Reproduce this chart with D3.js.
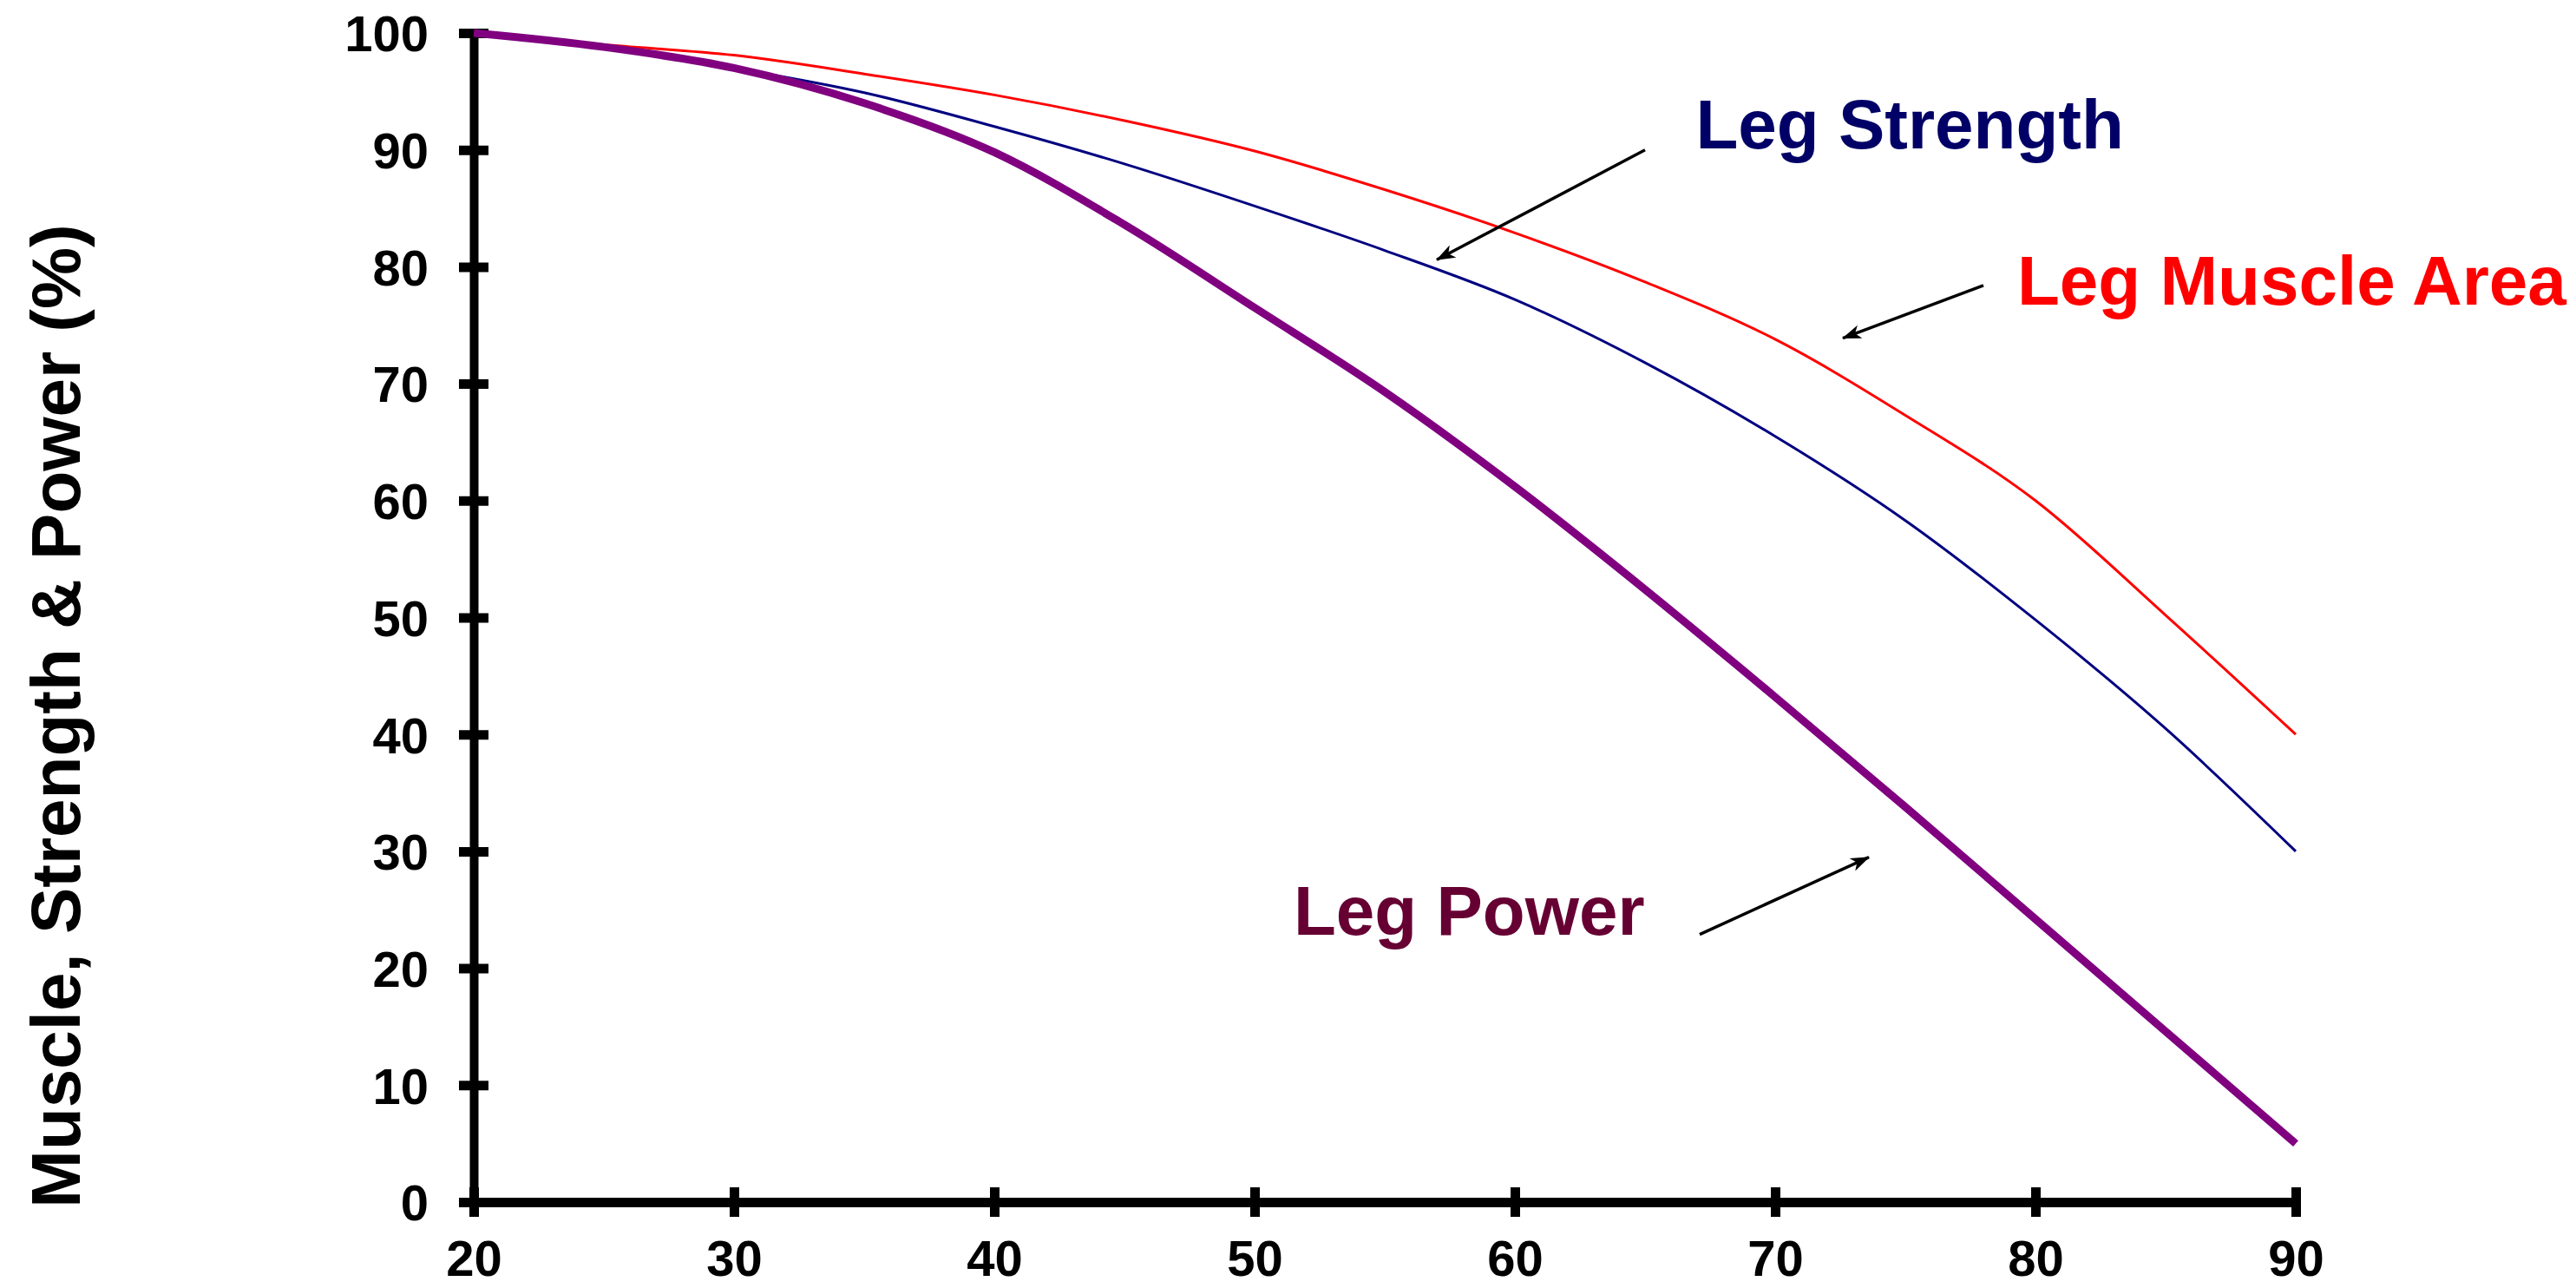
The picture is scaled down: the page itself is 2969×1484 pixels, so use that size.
<!DOCTYPE html>
<html>
<head>
<meta charset="utf-8">
<script src="https://cdn.jsdelivr.net/npm/d3@7"></script>
<style>
  body { margin: 0; background: #fff; }
  svg { display: block; }
</style>
</head>
<body>
<svg width="2969" height="1484"></svg>
<script>
// values (age in years, % of value at age 20)
var ages = [20, 25, 30, 35, 40, 45, 50, 55, 60, 65, 70, 75, 80, 85, 90];
var legMuscleArea = [100, 99.0, 98.1, 96.5, 94.7, 92.5, 89.9, 86.6, 82.9, 78.7, 73.8, 67.3, 60.0, 50.2, 40];
var legStrength   = [100, 98.8, 97.0, 94.9, 92.0, 88.8, 85.2, 81.4, 77.2, 71.8, 65.5, 58.3, 49.8, 40.5, 30];
var legPower      = [100, 98.8, 97.0, 94.0, 89.8, 83.6, 76.5, 69.3, 61.2, 52.4, 43.2, 33.8, 24.2, 14.6, 5];
var seriesNames = ["Leg Muscle Area", "Leg Strength", "Leg Power"];
var xTicks = [20, 30, 40, 50, 60, 70, 80, 90];
var yTicks = [0, 10, 20, 30, 40, 50, 60, 70, 80, 90, 100];
var yTitle = "Muscle, Strength & Power (%)";

var font = "'Liberation Sans', Arial, Helvetica, sans-serif";
var svg = d3.select("svg");

var x = d3.scaleLinear().domain([20, 90]).range([546, 2646]);
var y = d3.scaleLinear().domain([0, 100]).range([1385, 38]);

// axes: ticks cross the axis line on both sides
var yAxis = svg.append("g")
	.attr("transform", "translate(" + x(20) + ",0)")
	.call(d3.axisLeft(y).tickValues(yTicks).tickSize(17).tickSizeOuter(0));
yAxis.attr("font-size", 58).attr("font-family", font).attr("font-weight", "bold");
yAxis.select(".domain").attr("stroke-width", 10);
yAxis.selectAll(".tick line").attr("x1", -17).attr("x2", 17).attr("stroke-width", 11);
yAxis.selectAll(".tick text").attr("x", -52).attr("dy", "0.36em").attr("fill", "#000");

var xAxis = svg.append("g")
	.attr("transform", "translate(0," + y(0) + ")")
	.call(d3.axisBottom(x).tickValues(xTicks).tickSize(17).tickSizeOuter(0));
xAxis.attr("font-size", 58).attr("font-family", font).attr("font-weight", "bold");
xAxis.select(".domain").attr("stroke-width", 11);
xAxis.selectAll(".tick line").attr("y1", -17).attr("y2", 17).attr("stroke-width", 11);
xAxis.selectAll(".tick text").attr("y", 85).attr("dy", 0).attr("fill", "#000");

svg.append("text")
	.attr("transform", "translate(92," + ((263 + 1387) / 2) + ") rotate(-90)")
	.attr("text-anchor", "middle")
	.attr("font-family", font)
	.attr("font-weight", "bold")
	.attr("font-size", 80)
	.text(yTitle);

// the three curves, purple drawn last so it sits on top
var series = [
	{name: seriesNames[0], values: legMuscleArea, color: "#ff0000", width: 3},
	{name: seriesNames[1], values: legStrength, color: "#000080", width: 3},
	{name: seriesNames[2], values: legPower, color: "#800080", width: 9}
];

var line = d3.line()
	.x(function(d) { return x(d[0]); })
	.y(function(d) { return y(d[1]); })
	.curve(d3.curveMonotoneX);

svg.selectAll(".curve")
	.data(series)
	.enter()
	.append("path")
	.attr("class", "curve")
	.attr("fill", "none")
	.attr("stroke", function(d) { return d.color; })
	.attr("stroke-width", function(d) { return d.width; })
	.attr("d", function(d) { return line(ages.map(function(a, i) { return [a, d.values[i]]; })); });

// labels with arrows (placed in data units)
svg.append("defs").append("marker")
	.attr("id", "head")
	.attr("viewBox", "0 -8 22 16")
	.attr("refX", 21)
	.attr("refY", 0)
	.attr("markerWidth", 22)
	.attr("markerHeight", 16)
	.attr("markerUnits", "userSpaceOnUse")
	.attr("orient", "auto")
	.append("path")
	.attr("d", "M0,-8L22,0L0,8L6,0Z")
	.attr("fill", "#000");

var notes = [
	{text: seriesNames[1], color: "#000066", at: [66.95, 90.1], from: [65.0, 90.0], to: [57.0, 80.6]},
	{text: seriesNames[0], color: "#ff0000", at: [79.3, 76.8], from: [78.0, 78.4], to: [72.6, 73.9]},
	{text: seriesNames[2], color: "#660033", at: [51.5, 22.9], from: [67.1, 22.9], to: [73.6, 29.5]}
];

notes.forEach(function(n) {
	svg.append("text")
		.attr("x", x(n.at[0]))
		.attr("y", y(n.at[1]))
		.attr("font-family", font)
		.attr("font-weight", "bold")
		.attr("font-size", 80)
		.attr("fill", n.color)
		.text(n.text);

	svg.append("line")
		.attr("x1", x(n.from[0]))
		.attr("y1", y(n.from[1]))
		.attr("x2", x(n.to[0]))
		.attr("y2", y(n.to[1]))
		.attr("stroke", "#000")
		.attr("stroke-width", 3.5)
		.attr("marker-end", "url(#head)");
});
</script>
</body>
</html>
